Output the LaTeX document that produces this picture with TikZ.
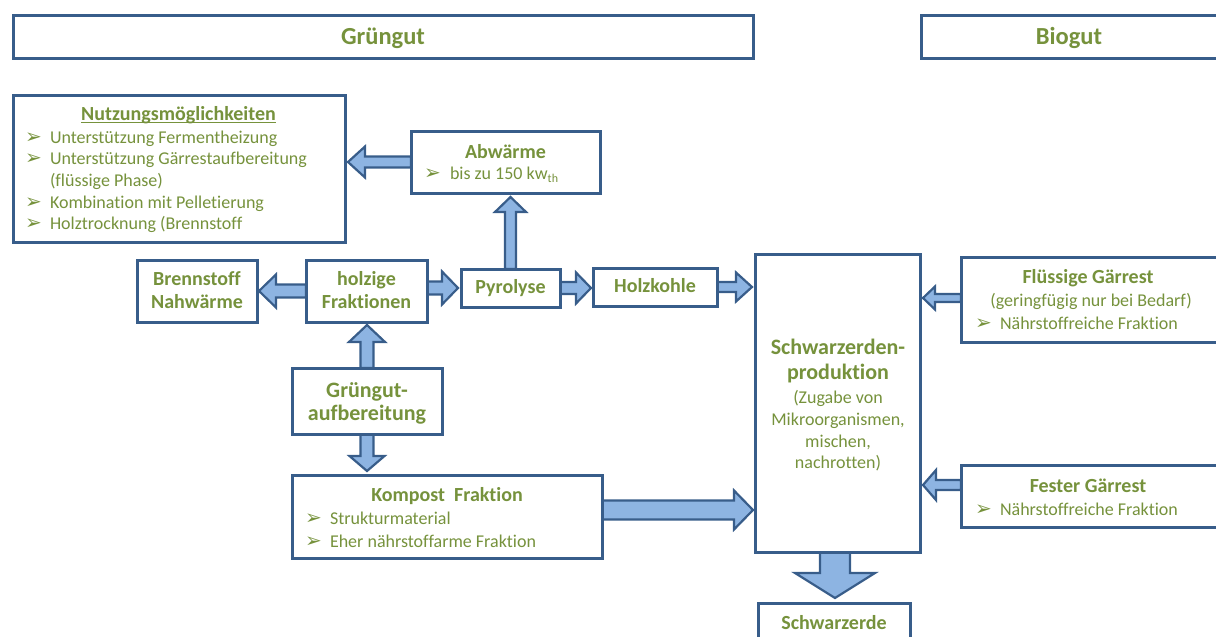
\documentclass[tikz,border=0pt]{standalone}
\usepackage{fontspec}
\setmainfont{Carlito}[Ligatures=NoCommon]
\newfontfamily\symfont{DejaVu Sans}
\usetikzlibrary{calc}
\definecolor{frameblue}{RGB}{56,93,138}
\definecolor{arrowfill}{RGB}{141,180,226}
\definecolor{textgreen}{RGB}{118,146,60}

\pgfdeclarelayer{background}
\pgfsetlayers{background,main}

% font sizes (1pt = 1 unit of the picture)
\newcommand\hfont{\fontsize{24.5}{28}\selectfont\bfseries}
\newcommand\bfont{\fontsize{20}{24}\selectfont\bfseries}
\newcommand\mfont{\fontsize{22}{26}\selectfont\bfseries}
\newcommand\rfont{\fontsize{18}{22}\selectfont}
\newcommand\bul{{\symfont\fontsize{20}{20}\selectfont ➢}}

% block arrow: start, tip, shaft half width, head half width, head length
\newcommand\blockarrow[5]{%
  \path (#1) coordinate (ba-start);
  \path (#2) coordinate (ba-tip);
  \path ($(ba-tip)!#5!(ba-start)$) coordinate (ba-base);
  \draw[flowarrow]
    ($(ba-start)!#3!90:(ba-tip)$) -- ($(ba-base)!#3!90:(ba-tip)$)
    -- ($(ba-base)!#4!90:(ba-tip)$) -- (ba-tip)
    -- ($(ba-base)!#4!-90:(ba-tip)$) -- ($(ba-base)!#3!-90:(ba-tip)$)
    -- ($(ba-start)!#3!-90:(ba-tip)$) -- cycle;
}

\tikzset{
  box/.style={draw=frameblue, line width=3pt, fill=white, rectangle,
    inner sep=0pt, outer sep=0pt},
  flowarrow/.style={draw=frameblue, fill=arrowfill, line width=2.2pt,
    line join=miter},
  lbl/.style={text=textgreen, inner sep=0pt, outer sep=0pt, anchor=base},
  lblw/.style={lbl, anchor=base west},
}

\begin{document}
\begin{tikzpicture}[x=1pt, y=-1pt]
\useasboundingbox (0,0) rectangle (1216,637);

% ---- boxes ----
\node[box, minimum width=740pt, minimum height=43pt] (gr) at (383,36.5) {};
\node[box, minimum width=309pt, minimum height=43pt] (bio) at (1075.5,36.5) {};
\node[box, minimum width=332pt, minimum height=147pt] (nutz) at (179,168.5) {};
\node[box, minimum width=189pt, minimum height=62pt] (abw) at (505.5,162) {};
\node[box, minimum width=120pt, minimum height=62pt] (brenn) at (197,291) {};
\node[box, minimum width=121pt, minimum height=62pt] (holz) at (366.5,291) {};
\node[box, minimum width=99pt, minimum height=38pt] (pyr) at (510.5,288) {};
\node[box, minimum width=124pt, minimum height=38pt] (hk) at (655,287) {};
\node[box, minimum width=150pt, minimum height=66pt] (aufb) at (367,401) {};
\node[box, minimum width=310pt, minimum height=83pt] (komp) at (447,516.5) {};
\node[box, minimum width=165pt, minimum height=298pt] (sch) at (837.5,403) {};
\node[box, minimum width=257pt, minimum height=85pt] (flu) at (1089.5,299.5) {};
\node[box, minimum width=257pt, minimum height=62pt] (fest) at (1089.5,496) {};
\node[box, minimum width=152pt, minimum height=42pt] (se) at (834,624) {};

% ---- block arrows ----
\begin{pgfonlayer}{background}
\blockarrow{abw.west}{$(abw.west -| nutz.east)+(3,0)$}{5.5pt}{15.5pt}{17pt}
\blockarrow{holz.west}{$(brenn.east)+(2,0)$}{6.5pt}{16.5pt}{17pt}
\blockarrow{holz.east |- pyr.west}{$(pyr.west)+(-3,0)$}{6.5pt}{16.5pt}{16pt}
\blockarrow{pyr.east}{$(pyr.east -| hk.west)+(-2,0)$}{6pt}{15.5pt}{15pt}
\blockarrow{hk.east}{$(hk.east -| sch.west)+(-3,0)$}{5pt}{14.5pt}{16pt}
\blockarrow{pyr.north}{$(pyr.north |- abw.south)+(0,4)$}{5.5pt}{15.5pt}{15pt}
\blockarrow{aufb.north}{$(aufb.north |- holz.south)+(0,3)$}{6.5pt}{18pt}{17pt}
\blockarrow{aufb.south}{$(aufb.south |- komp.north)+(0,-4)$}{6.5pt}{17.5pt}{15pt}
\blockarrow{$(komp.east)+(0,-6.5)$}{$(komp.east -| sch.west)+(-2,-6.5)$}{9.5pt}{19.5pt}{19pt}
\blockarrow{$(flu.west)+(0,-1.5)$}{$(flu.west -| sch.east)+(3,-1.5)$}{4pt}{11.5pt}{12pt}
\blockarrow{$(fest.west)+(0,-11)$}{$(fest.west -| sch.east)+(3,-11)$}{5pt}{15pt}{13pt}
\blockarrow{$(sch.south)+(-2.5,0)$}{$(sch.south |- se.north)+(-2.5,-5)$}{15pt}{40pt}{25pt}
\end{pgfonlayer}

% ---- texts ----
\node[lbl] (t-gr) at (383,44.5) {\hfont Grüngut};
\node[lbl] (t-bio) at (1069,44.5) {\hfont Biogut};

\node[lbl] (t-nutz) at (178.5,120) {\bfont Nutzungsmöglichkeiten};
\draw[textgreen, line width=1.2pt] ($(t-nutz.base west)+(0,2.5)$) -- ($(t-nutz.base east)+(0,2.5)$);
\node[lblw] (n-b1) at (25,143) {\bul};
\node[lblw] (n-t1) at (50,143) {\rfont Unterstützung Fermentheizung};
\node[lblw] (n-b2) at (25,164) {\bul};
\node[lblw] (n-t2) at (50,164) {\rfont Unterstützung Gärrestaufbereitung};
\node[lblw] (n-t2b) at (50,186) {\rfont (flüssige Phase)};
\node[lblw] (n-b3) at (25,208) {\bul};
\node[lblw] (n-t3) at (50,208) {\rfont Kombination mit Pelletierung};
\node[lblw] (n-b4) at (25,229) {\bul};
\node[lblw] (n-t4) at (50,229) {\rfont Holztrocknung (Brennstoff};

\node[lbl] (t-abw) at (505.5,158) {\bfont Abwärme};
\node[lblw] (a-b1) at (424,179) {\bul};
\node[lblw] (a-t1) at (450,179) {\rfont bis zu 150 kw\raisebox{-3.5pt}{\fontsize{12}{12}\selectfont th}};

\node[lbl] (t-brenn1) at (197,285) {\bfont Brennstoff};
\node[lbl] (t-brenn2) at (197,308) {\bfont Nahwärme};
\node[lbl] (t-holz1) at (366.5,285) {\bfont holzige};
\node[lbl] (t-holz2) at (366.5,308) {\bfont Fraktionen};
\node[lbl] (t-pyr) at (510.5,293.5) {\bfont Pyrolyse};
\node[lbl] (t-hk) at (655,292.5) {\bfont Holzkohle};

\node[lbl] (t-aufb1) at (367,397) {\mfont Grüngut-};
\node[lbl] (t-aufb2) at (367,420) {\mfont aufbereitung};

\node[lbl] (t-komp) at (447,501) {\bfont Kompost\ \ Fraktion};
\node[lblw] (k-b1) at (305,524) {\bul};
\node[lblw] (k-t1) at (330,524) {\rfont Strukturmaterial};
\node[lblw] (k-b2) at (305,547) {\bul};
\node[lblw] (k-t2) at (330,547) {\rfont Eher nährstoffarme Fraktion};

\node[lbl] (t-sch1) at (838,354) {\mfont Schwarzerden-};
\node[lbl] (t-sch2) at (838,379) {\mfont produktion};
\node[lbl] (t-sch3) at (838,403) {\rfont (Zugabe von};
\node[lbl] (t-sch4) at (838,425) {\rfont Mikroorganismen,};
\node[lbl] (t-sch5) at (838,447) {\rfont mischen,};
\node[lbl] (t-sch6) at (838,468) {\rfont nachrotten)};

\node[lbl] (t-flu1) at (1088,283) {\bfont Flüssige Gärrest};
\node[lbl] (t-flu2) at (1091,306) {\rfont (geringfügig nur bei Bedarf)};
\node[lblw] (f-b1) at (975,329) {\bul};
\node[lblw] (f-t1) at (1000,329) {\rfont Nährstoffreiche Fraktion};

\node[lbl] (t-fest) at (1088,492) {\bfont Fester Gärrest};
\node[lblw] (s-b1) at (975,515) {\bul};
\node[lblw] (s-t1) at (1000,515) {\rfont Nährstoffreiche Fraktion};

\node[lbl] (t-se) at (834,629) {\bfont Schwarzerde};
\end{tikzpicture}
\end{document}
